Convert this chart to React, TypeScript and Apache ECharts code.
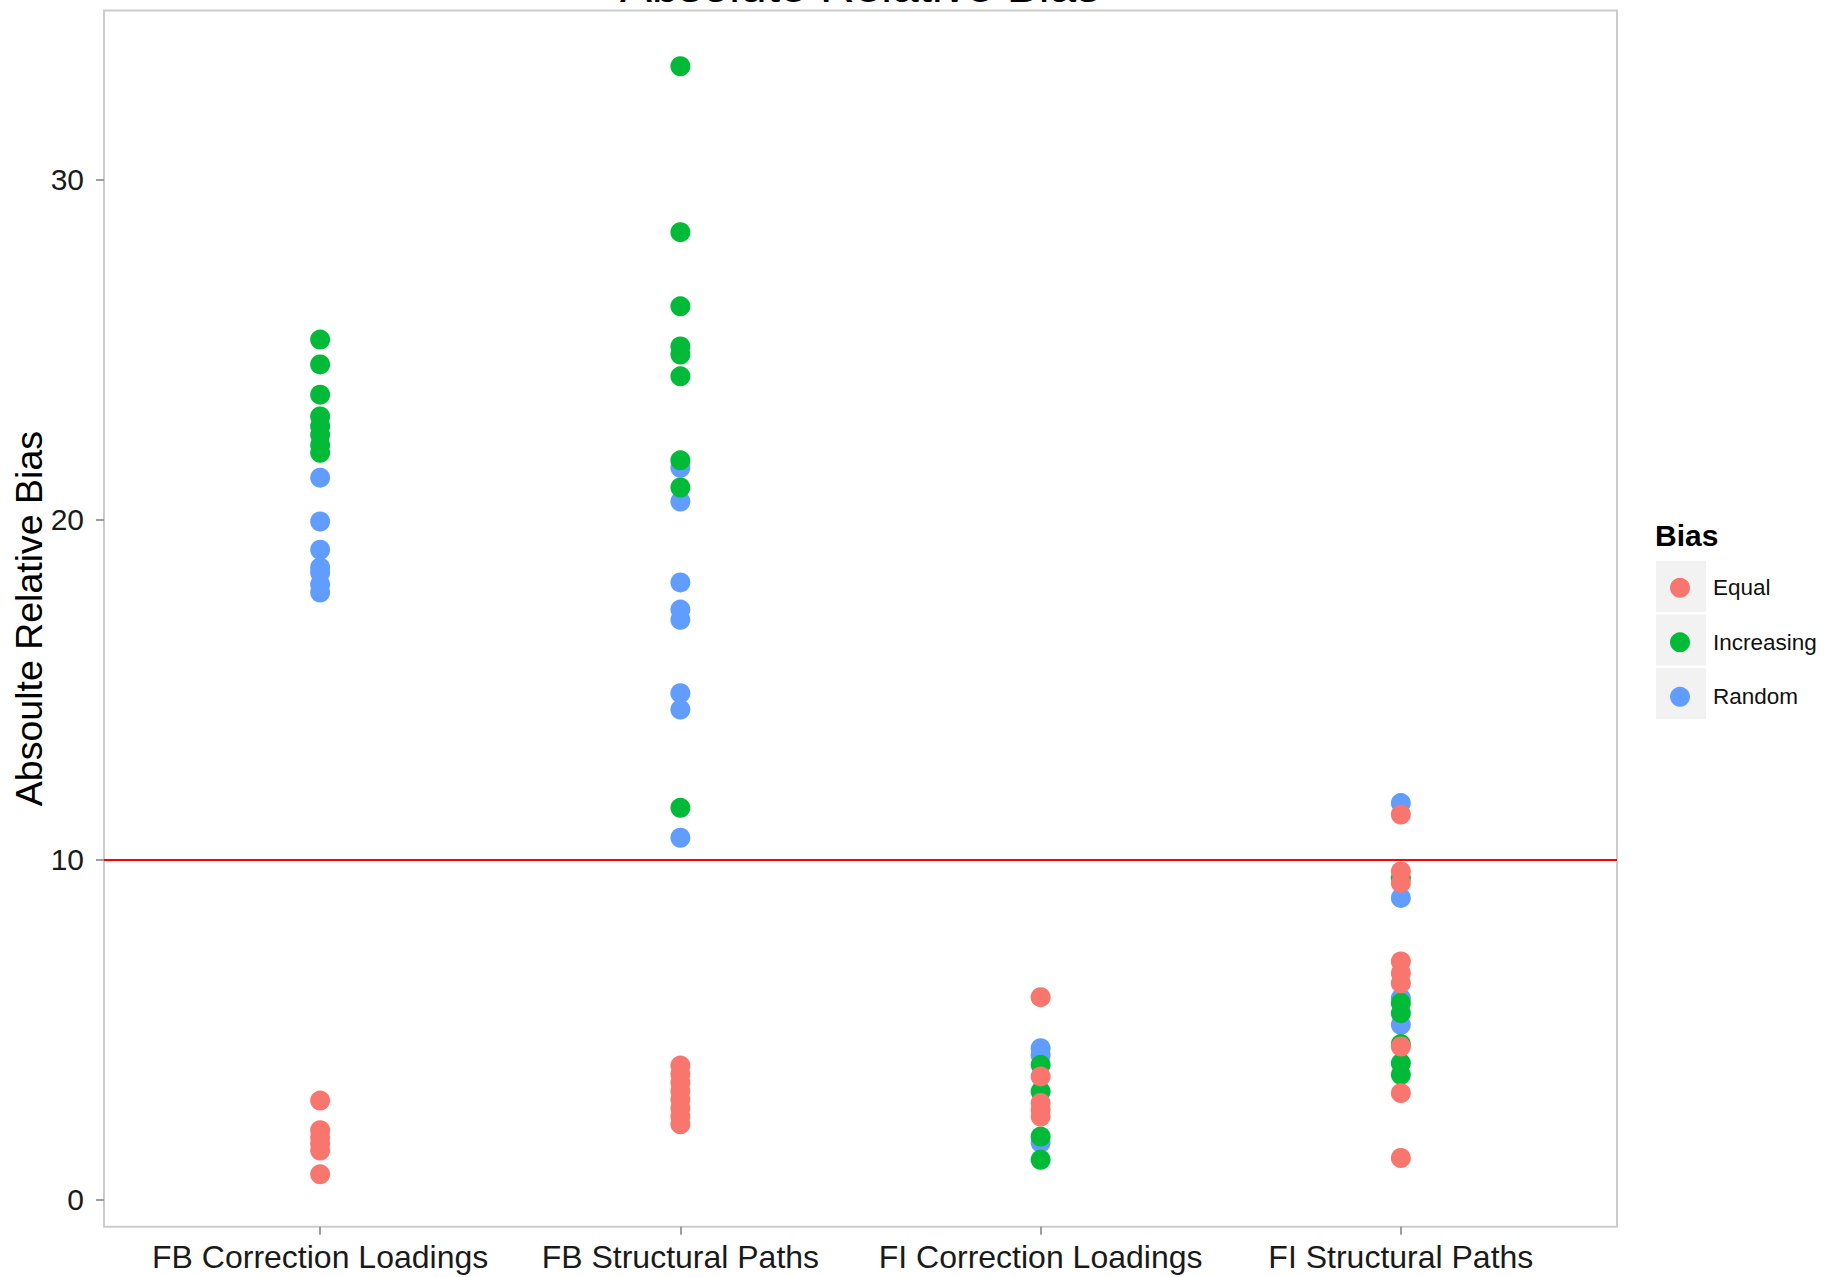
import React, { useEffect, useRef } from "react";
import * as echarts from "echarts";

// Parameter groups on the x axis
const categories = [
  "FB Correction Loadings",
  "FB Structural Paths",
  "FI Correction Loadings",
  "FI Structural Paths",
];

// Absolute relative bias per parameter group (one inner array per category)
const equalValues: number[][] = [
  [2.92, 2.05, 1.85, 1.65, 1.45, 0.75],
  [3.95, 3.7, 3.45, 3.2, 2.95, 2.7, 2.45, 2.22],
  [5.96, 3.63, 2.85, 2.65, 2.45],
  [11.33, 9.66, 9.32, 7.01, 6.67, 6.37, 4.51, 3.14, 1.23],
];

const increasingValues: number[][] = [
  [25.3, 24.57, 23.68, 23.04, 22.75, 22.5, 22.2, 21.97],
  [33.34, 28.46, 26.28, 25.1, 24.86, 24.22, 21.75, 20.95, 11.53],
  [3.97, 3.19, 1.86, 1.18],
  [9.46, 5.79, 5.49, 4.58, 4.02, 3.68],
];

const randomValues: number[][] = [
  [21.24, 19.95, 19.12, 18.6, 18.44, 18.1, 17.86],
  [21.53, 20.54, 18.16, 17.36, 17.06, 14.9, 14.42, 10.65],
  [4.46, 4.25, 1.68],
  [11.67, 8.88, 5.93, 5.15],
];

const yTicks = [0, 10, 20, 30];
const thresholdValue = 10;

const groupNames = ["Equal", "Increasing", "Random"];
const groupColors: Record<string, string> = {
  Equal: "#F8766D",
  Increasing: "#00BA38",
  Random: "#619CFF",
};

const FONT = "'Liberation Sans', Arial, Helvetica, sans-serif";

function toPoints(values: number[][]): [number, number][] {
  const pts: [number, number][] = [];
  values.forEach((list, ci) => list.forEach((v) => pts.push([ci, v])));
  return pts;
}

export default function App() {
  const ref = useRef<HTMLDivElement>(null);

  useEffect(() => {
    if (!ref.current) return;
    const chart = echarts.init(ref.current, undefined, { renderer: "svg" });

    const groupData: Record<string, number[][]> = {
      Equal: equalValues,
      Increasing: increasingValues,
      Random: randomValues,
    };

    // drawn so that Equal sits on top, Random underneath
    const drawOrder = ["Random", "Increasing", "Equal"];

    const series: any[] = drawOrder.map((name) => ({
      name,
      type: "scatter",
      symbol: "circle",
      symbolSize: 20,
      itemStyle: { color: groupColors[name], opacity: 1 },
      data: toPoints(groupData[name]),
      ...(name === "Equal"
        ? {
            markLine: {
              silent: true,
              symbol: "none",
              label: { show: false },
              lineStyle: { color: "#FF0000", width: 2, type: "solid" },
              data: [{ yAxis: thresholdValue }],
            },
          }
        : {}),
    }));

    const keyY = [561, 614.5, 668];

    chart.setOption({
      animation: false,
      backgroundColor: "#FFFFFF",
      textStyle: { fontFamily: FONT },
      grid: {
        left: 104,
        right: 208,
        top: 10.5,
        bottom: 50.3,
        show: true,
        borderColor: "#CCCCCC",
        borderWidth: 2,
        backgroundColor: "#FFFFFF",
        containLabel: false,
        outerBoundsMode: "none",
      },
      xAxis: {
        type: "value",
        min: -0.6,
        max: 3.6,
        axisLine: { show: false, onZero: false },
        splitLine: { show: false },
        axisTick: {
          show: true,
          customValues: [0, 1, 2, 3],
          length: 8,
          lineStyle: { color: "#7F7F7F", width: 1.5 },
        },
        axisLabel: {
          customValues: [0, 1, 2, 3],
          formatter: (v: number) => categories[Math.round(v)] ?? "",
          fontSize: 32,
          color: "#1A1A1A",
          fontFamily: FONT,
          margin: 14,
        },
      },
      yAxis: {
        type: "value",
        min: -0.79,
        max: 34.98,
        name: "Absoulte Relative Bias",
        nameLocation: "middle",
        nameGap: 56,
        nameMoveOverlap: false,
        nameTextStyle: { fontSize: 37.5, color: "#000000", fontFamily: FONT },
        axisLine: { show: false, onZero: false },
        splitLine: { show: false },
        axisTick: {
          show: true,
          customValues: yTicks,
          length: 8,
          lineStyle: { color: "#7F7F7F", width: 1.5 },
        },
        axisLabel: {
          customValues: yTicks,
          fontSize: 30,
          color: "#1A1A1A",
          fontFamily: FONT,
          margin: 20,
        },
      },
      legend: {
        data: groupNames,
        orient: "vertical",
        left: 1670,
        top: 576.3,
        padding: 0,
        itemWidth: 20,
        itemHeight: 20,
        itemGap: 31.5,
        icon: "circle",
        selectedMode: false,
        textStyle: {
          fontSize: 22.5,
          color: "#111111",
          fontFamily: FONT,
          padding: [0, 0, 0, 18],
        },
      },
      graphic: [
        {
          type: "text",
          x: 860,
          y: -15,
          style: {
            text: "Absolute Relative Bias",
            fontSize: 48,
            fontFamily: FONT,
            fill: "#000000",
            align: "center",
            verticalAlign: "middle",
          },
        },
        {
          type: "text",
          x: 1655,
          y: 535,
          style: {
            text: "Bias",
            fontSize: 30,
            fontWeight: "bold",
            fontFamily: FONT,
            fill: "#000000",
            align: "left",
            verticalAlign: "middle",
          },
        },
        ...keyY.map((y) => ({
          type: "rect",
          z: -1,
          shape: { x: 1656, y, width: 50, height: 51 },
          style: { fill: "#F2F2F2" },
        })),
      ],
      series,
    });

    return () => chart.dispose();
  }, []);

  return (
    <div
      ref={ref}
      style={{
        position: "fixed",
        left: 0,
        top: 0,
        width: 1825,
        height: 1277,
        background: "#FFFFFF",
      }}
    />
  );
}
